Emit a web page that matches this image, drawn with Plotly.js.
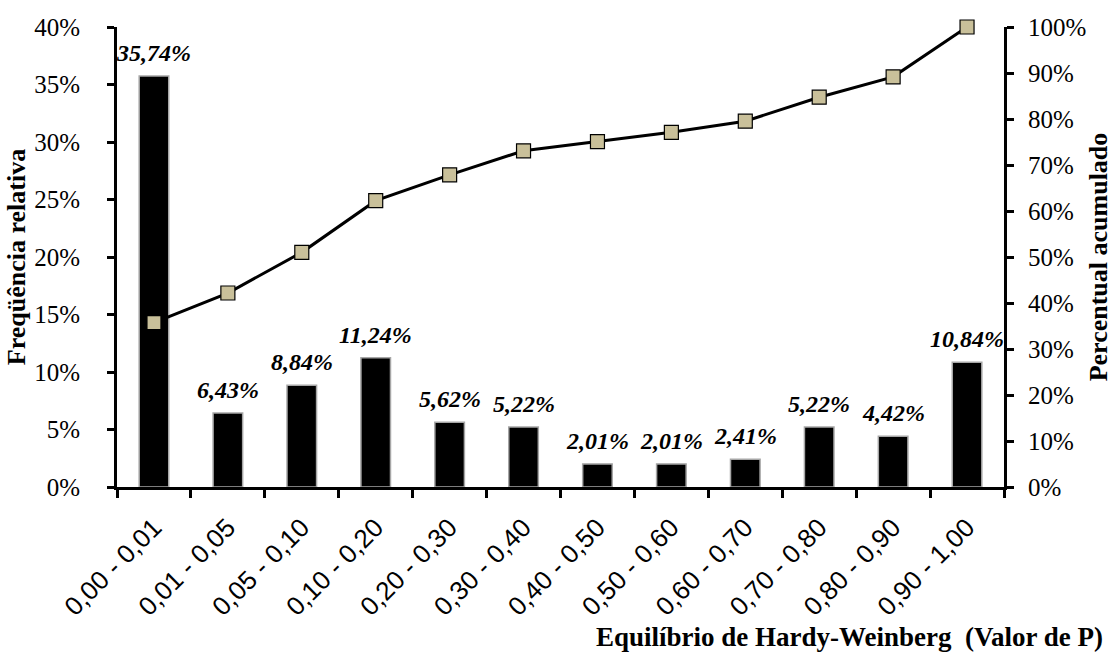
<!DOCTYPE html>
<html>
<head>
<meta charset="utf-8">
<script src="https://cdn.plot.ly/plotly-3.0.1.min.js"></script>
<style>html,body{margin:0;padding:0;background:#fff;}#chart{width:1117px;height:653px;}</style>
</head>
<body>
<div id="chart"></div>
<script>
const categories = ["0,00 - 0,01","0,01 - 0,05","0,05 - 0,10","0,10 - 0,20","0,20 - 0,30","0,30 - 0,40","0,40 - 0,50","0,50 - 0,60","0,60 - 0,70","0,70 - 0,80","0,80 - 0,90","0,90 - 1,00"];
const relativeFreq = [35.74, 6.43, 8.84, 11.24, 5.62, 5.22, 2.01, 2.01, 2.41, 5.22, 4.42, 10.84];
const cumulativePct = [35.74, 42.17, 51.01, 62.25, 67.87, 73.09, 75.10, 77.11, 79.52, 84.74, 89.16, 100.00];

const serif = "Liberation Serif, Times New Roman, serif";
const sans = "Liberation Sans, Arial, sans-serif";

const bars = {
  type: 'bar', x: categories, y: relativeFreq, width: 0.4,
  marker: {color: '#000000', line: {color: '#A6A6A6', width: 1.5}},
  hoverinfo: 'skip'
};
const line = {
  type: 'scatter', mode: 'lines+markers', x: categories, y: cumulativePct, yaxis: 'y2',
  line: {color: '#000000', width: 3},
  marker: {symbol: 'square', size: 14, color: '#C9C09A', line: {color: '#000000', width: 1.2}},
  cliponaxis: false, hoverinfo: 'skip'
};

const barLabels = categories.map((c, i) => ({
  x: c, y: relativeFreq[i], xref: 'x', yref: 'y',
  text: '<b><i>' + relativeFreq[i].toFixed(2).replace('.', ',') + '%</i></b>',
  showarrow: false, xanchor: 'center', yanchor: 'bottom', yshift: 8,
  font: {family: serif, size: 24, color: '#000'}
}));

const layout = {
  width: 1117, height: 653,
  margin: {l: 117, r: 113, t: 27, b: 166},
  paper_bgcolor: '#fff', plot_bgcolor: '#fff',
  separators: ',.',
  showlegend: false, bargap: 0.6,
  font: {family: serif, size: 24, color: '#000'},
  xaxis: {
    type: 'category', range: [-0.5, 11.5], tickangle: -45,
    tickfont: {family: sans, size: 26, color: '#000'},
    showline: true, linecolor: '#000', linewidth: 3,
    ticks: 'outside', tickson: 'boundaries', ticklen: 8, tickwidth: 3, tickcolor: '#000',
    ticklabelstandoff: 12,
    showgrid: false, zeroline: false, fixedrange: true
  },
  yaxis: {
    range: [0, 40], dtick: 5, ticksuffix: '%',
    tickfont: {family: serif, size: 25, color: '#000'},
    showline: true, linecolor: '#000', linewidth: 3,
    ticks: 'outside', ticklen: 7, tickwidth: 3, tickcolor: '#000',
    ticklabelstandoff: 22,
    showgrid: false, zeroline: false,
    title: {text: '<b>Freqüência relativa</b>', font: {family: serif, size: 26, color: '#000'}, standoff: 2}
  },
  yaxis2: {
    range: [0, 100], dtick: 10, ticksuffix: '%', overlaying: 'y', side: 'right',
    tickfont: {family: serif, size: 25, color: '#000'},
    showline: true, linecolor: '#000', linewidth: 3,
    ticks: 'outside', ticklen: 7, tickwidth: 3, tickcolor: '#000',
    ticklabelstandoff: 9,
    showgrid: false, zeroline: false,
    title: {text: '<b>Percentual acumulado</b>', font: {family: serif, size: 26, color: '#000'}, standoff: 4}
  },
  annotations: barLabels.concat([{
    text: '<b>Equilíbrio de Hardy-Weinberg  (Valor de P)</b>',
    xref: 'paper', yref: 'paper', x: 1.114, y: -0.326, xanchor: 'right', yanchor: 'middle',
    showarrow: false, font: {family: serif, size: 27, color: '#000'}
  }])
};

Plotly.newPlot('chart', [bars, line], layout, {displayModeBar: false, staticPlot: true});
</script>
</body>
</html>
